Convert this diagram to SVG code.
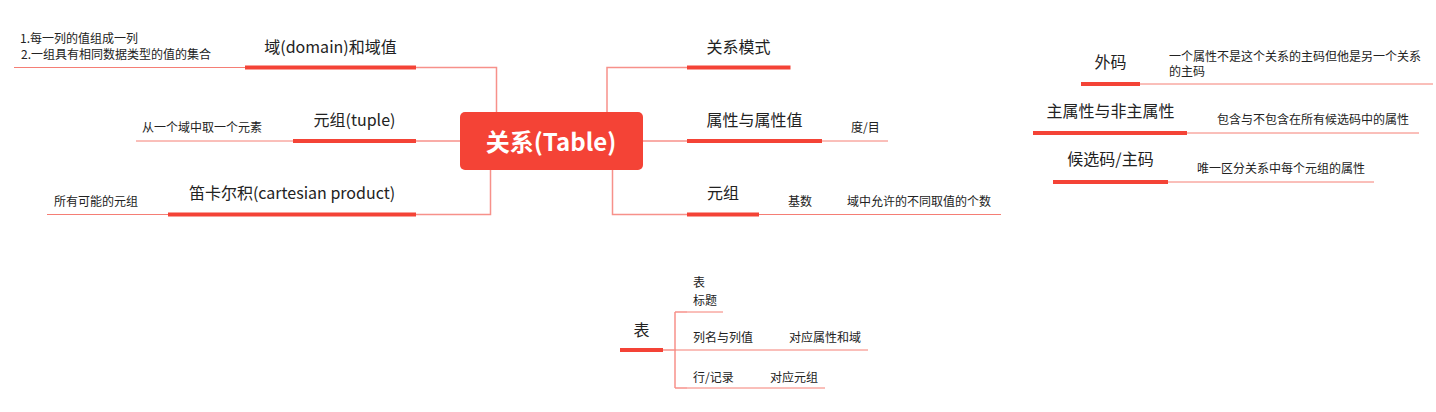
<svg xmlns="http://www.w3.org/2000/svg" width="1436" height="412" viewBox="0 0 1436 412">
<style>
text{font-family:"Noto Sans CJK SC","Noto Sans",sans-serif;fill:#222}
.topic{font-size:16px}
.sub{font-size:12px}
.mid{text-anchor:middle}
.bar{stroke:#f44336;stroke-width:4;fill:none}
.conn{stroke:#f7918a;stroke-width:1.5;fill:none}
.leaf{stroke:#f57e75;stroke-width:1;fill:none}
.root{fill:#fff;font-size:24px;font-weight:bold;text-anchor:middle}
</style>
<rect width="1436" height="412" fill="#fff"/>
<g id="connectors">
<path class="conn" d="M416,67.5 H496.5 V112"/>
<path class="conn" d="M416,141 H460"/>
<path class="conn" d="M416,214.5 H490.5 V170"/>
<path class="conn" d="M607,112 V67.5 H687"/>
<path class="conn" d="M643,141 H687"/>
<path class="conn" d="M612.5,170 V214.5 H687"/>
<path class="conn" d="M663,350 H675 M675,312 V388 M675,312 H687 M675,388 H687"/>
</g>
<g id="root">
<rect x="460" y="112" width="183" height="58" rx="5" fill="#f44336"/>
<text class="root" x="551" y="151">关系(Table)</text>
</g>
<g id="domain">
<path class="bar" d="M245,67.5 H416"/>
<text class="topic mid" x="330.5" y="53">域(domain)和域值</text>
<path class="leaf" d="M14,67.5 H245"/>
<text class="sub" x="20" y="43">1.每一列的值组成一列</text>
<text class="sub" x="21" y="59">2.一组具有相同数据类型的值的集合</text>
</g>
<g id="tuple">
<path class="bar" d="M293,141 H416"/>
<text class="topic mid" x="354.5" y="126">元组(tuple)</text>
<path class="leaf" d="M136,141 H293"/>
<text class="sub" x="142" y="132">从一个域中取一个元素</text>
</g>
<g id="cartesian">
<path class="bar" d="M168,214.5 H416"/>
<text class="topic mid" x="292" y="199">笛卡尔积(cartesian product)</text>
<path class="leaf" d="M47,214.5 H168"/>
<text class="sub" x="54" y="206">所有可能的元组</text>
</g>
<g id="schema">
<path class="bar" d="M687,67.5 H790.5"/>
<text class="topic mid" x="738.5" y="53">关系模式</text>
</g>
<g id="attribute">
<path class="bar" d="M687,141 H822"/>
<text class="topic mid" x="754.5" y="125.5">属性与属性值</text>
<path class="leaf" d="M822,141 H888"/>
<text class="sub" x="851" y="132">度/目</text>
</g>
<g id="tuple-right">
<path class="bar" d="M687,214.5 H759"/>
<text class="topic mid" x="723" y="199">元组</text>
<path class="leaf" d="M759,214.5 H1001"/>
<text class="sub" x="788" y="206">基数</text>
<text class="sub" x="847" y="206">域中允许的不同取值的个数</text>
</g>
<g id="foreign-key">
<path class="bar" d="M1081,84 H1140"/>
<text class="topic mid" x="1110.5" y="67.5">外码</text>
<path class="leaf" d="M1140,84 H1433"/>
<text class="sub" x="1169" y="60.5">一个属性不是这个关系的主码但他是另一个关系</text>
<text class="sub" x="1169" y="75.5">的主码</text>
</g>
<g id="prime-attr">
<path class="bar" d="M1033,133 H1187"/>
<text class="topic mid" x="1110.5" y="117">主属性与非主属性</text>
<path class="leaf" d="M1187,133 H1419"/>
<text class="sub" x="1217" y="123.5">包含与不包含在所有候选码中的属性</text>
</g>
<g id="candidate-key">
<path class="bar" d="M1053,182 H1168"/>
<text class="topic mid" x="1110.5" y="165">候选码/主码</text>
<path class="leaf" d="M1168,182 H1374"/>
<text class="sub" x="1197" y="172.5">唯一区分关系中每个元组的属性</text>
</g>
<g id="table">
<path class="bar" d="M620,350 H663"/>
<text class="topic mid" x="641.5" y="336">表</text>
</g>
<g id="table-title">
<path class="leaf" d="M687,312 H723"/>
<text class="sub" x="693" y="286.5">表</text>
<text class="sub" x="693" y="304.5">标题</text>
</g>
<g id="table-column">
<path class="leaf" d="M675,350 H868"/>
<text class="sub" x="693" y="341.5">列名与列值</text>
<text class="sub" x="789" y="341.5">对应属性和域</text>
</g>
<g id="table-row">
<path class="leaf" d="M687,388 H825"/>
<text class="sub" x="693" y="381.5">行/记录</text>
<text class="sub" x="770" y="381.5">对应元组</text>
</g>
</svg>
